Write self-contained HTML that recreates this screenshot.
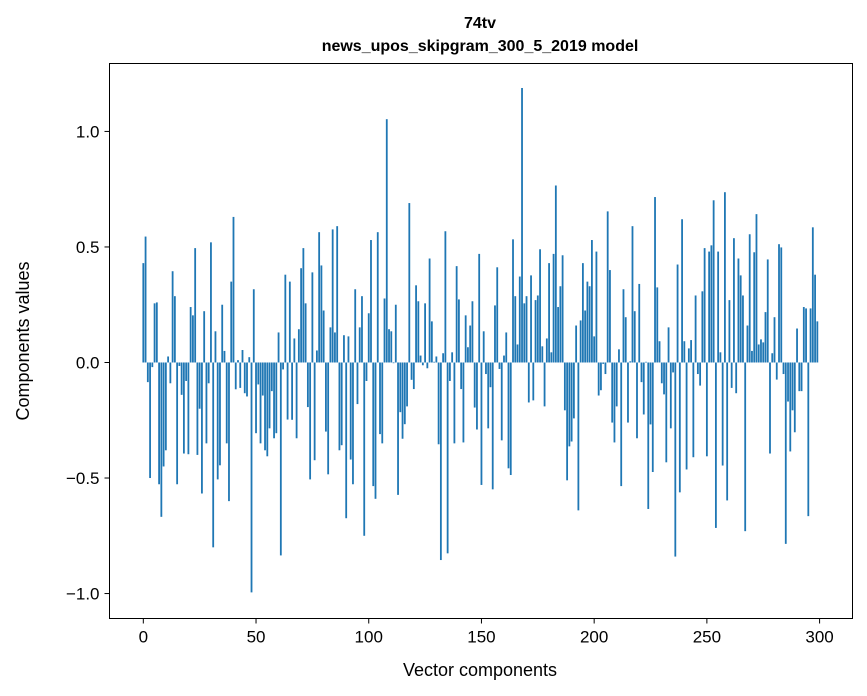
<!DOCTYPE html>
<html><head><meta charset="utf-8">
<style>
html,body{margin:0;padding:0;background:#fff;}
svg{display:block;font-family:"Liberation Sans","DejaVu Sans",sans-serif;}
</style></head>
<body>
<svg id="chart" width="867" height="696" viewBox="0 0 867 696">
<rect x="0" y="0" width="867" height="696" fill="#fff"/>
<text x="480" y="28" text-anchor="middle" font-size="16" font-weight="bold">74tv</text>
<text x="480" y="51" text-anchor="middle" font-size="16" font-weight="bold">news_upos_skipgram_300_5_2019 model</text>
<g id="bars"></g>
<g id="xticks"></g>
<g id="yticks"></g>
<rect x="109.5" y="63.5" width="743" height="555" fill="none" stroke="#000" stroke-width="1"/>
<text x="480" y="676" text-anchor="middle" font-size="18">Vector components</text>
<text transform="translate(29,341) rotate(-90)" text-anchor="middle" font-size="18">Components values</text>
</svg>
<script>
const values = [
0.43,0.545,-0.085,-0.5,-0.02,0.256,0.26,-0.527,-0.668,-0.45,
-0.38,0.026,-0.09,0.395,0.287,-0.527,-0.015,-0.14,-0.394,-0.08,
-0.397,0.24,0.204,0.495,-0.4,-0.2,-0.567,0.222,-0.35,-0.09,
0.52,-0.8,0.135,-0.506,-0.445,0.25,0.05,-0.35,-0.6,0.35,
0.63,-0.116,0.01,-0.11,0.054,-0.133,-0.147,0.023,-0.995,0.317,
-0.306,-0.095,-0.35,-0.143,-0.38,-0.406,-0.285,-0.124,-0.328,-0.306,
0.13,-0.835,-0.03,0.38,-0.247,0.35,-0.248,0.104,-0.328,0.144,
0.408,0.495,0.256,-0.193,-0.506,0.39,-0.423,0.052,0.564,0.42,
0.225,-0.299,-0.484,0.152,0.576,0.13,0.59,-0.38,-0.358,0.118,
-0.674,0.113,-0.42,-0.527,0.317,-0.18,0.152,0.287,-0.75,-0.08,
0.213,0.53,-0.535,-0.59,0.564,-0.31,-0.35,0.277,1.053,0.144,
0.135,-0.003,0.25,-0.573,-0.215,-0.33,-0.267,-0.19,0.69,-0.075,
-0.115,0.334,0.265,0.03,-0.012,0.256,-0.025,0.45,0.178,0.003,
0.026,-0.354,-0.855,0.04,0.568,-0.826,-0.08,0.044,-0.35,0.417,
0.273,-0.115,-0.346,0.204,0.066,0.16,0.265,-0.195,-0.29,0.47,
-0.53,0.135,-0.05,-0.285,-0.107,-0.549,0.247,0.412,-0.028,-0.337,
0.03,0.13,-0.458,-0.487,0.533,0.287,0.078,0.372,1.188,0.256,
0.287,-0.173,0.377,-0.164,0.27,0.29,0.49,0.07,-0.19,0.104,
0.43,0.044,0.47,0.766,0.24,0.33,0.464,-0.207,-0.51,-0.363,
-0.342,-0.242,0.16,-0.64,0.182,0.43,0.225,0.35,0.33,0.53,
0.113,0.48,-0.143,-0.12,-0.006,-0.05,0.654,0.4,-0.26,-0.346,
-0.19,0.057,-0.535,0.317,0.196,-0.26,0.005,0.59,0.222,-0.328,
0.34,-0.085,-0.225,0.003,-0.634,-0.268,-0.474,0.716,0.325,0.092,
-0.09,-0.138,-0.432,0.152,-0.285,-0.043,-0.84,0.424,-0.562,0.62,
0.092,-0.463,0.061,0.097,-0.41,0.29,-0.05,-0.1,0.308,0.495,
-0.406,0.48,0.507,0.702,-0.716,0.48,0.044,-0.446,0.737,-0.597,
0.27,-0.11,0.538,-0.133,0.45,0.377,0.29,-0.73,0.16,0.555,
0.05,0.477,0.642,0.078,0.1,0.087,0.218,0.446,-0.394,0.04,
0.196,-0.074,0.512,0.498,-0.05,-0.785,-0.169,-0.385,-0.207,-0.302,
0.147,-0.124,-0.124,0.24,0.234,-0.665,0.234,0.585,0.38,0.178
];
const xTickValues = [0,50,100,150,200,250,300];
const xTickLabels = ["0","50","100","150","200","250","300"];
const yTickValues = [-1.0,-0.5,0.0,0.5,1.0];
const yTickLabels = ["\u22121.0","\u22120.5","0.0","0.5","1.0"];

const NS = "http://www.w3.org/2000/svg";
const PL = 109.5, PR = 852.5, PT = 63.5, PB = 618.5;
const XMIN = -15, XMAX = 314.6;
const YMIN = -1.108, YMAX = 1.294;
function xs(v){ return PL + (v - XMIN) / (XMAX - XMIN) * (PR - PL); }
function ys(v){ return PB - (v - YMIN) / (YMAX - YMIN) * (PB - PT); }

const barsG = document.getElementById('bars');
const bw = (xs(0.8) - xs(0));
values.forEach(function(v, i){
  const r = document.createElementNS(NS, 'rect');
  const y0 = ys(0), y1 = ys(v);
  r.setAttribute('x', xs(i) - bw/2);
  r.setAttribute('y', Math.min(y0, y1));
  r.setAttribute('width', bw);
  r.setAttribute('height', Math.max(Math.abs(y1 - y0), 0.3));
  r.setAttribute('fill', '#1f77b4');
  
  
  barsG.appendChild(r);
});

const xg = document.getElementById('xticks');
xTickValues.forEach(function(t, i){
  const x = xs(t);
  const l = document.createElementNS(NS, 'line');
  l.setAttribute('x1', x); l.setAttribute('x2', x);
  l.setAttribute('y1', PB); l.setAttribute('y2', PB + 5);
  l.setAttribute('stroke', '#000');
  
  
  xg.appendChild(l);
  const tx = document.createElementNS(NS, 'text');
  tx.setAttribute('x', x); tx.setAttribute('y', PB + 24);
  tx.setAttribute('text-anchor', 'middle');
  tx.setAttribute('font-size', '17');
  tx.textContent = xTickLabels[i];
  
  
  xg.appendChild(tx);
});

const yg = document.getElementById('yticks');
yTickValues.forEach(function(t, i){
  const y = ys(t);
  const l = document.createElementNS(NS, 'line');
  l.setAttribute('x1', PL - 5); l.setAttribute('x2', PL);
  l.setAttribute('y1', y); l.setAttribute('y2', y);
  l.setAttribute('stroke', '#000');
  
  
  yg.appendChild(l);
  const tx = document.createElementNS(NS, 'text');
  tx.setAttribute('x', PL - 10); tx.setAttribute('y', y + 6);
  tx.setAttribute('text-anchor', 'end');
  tx.setAttribute('font-size', '17');
  tx.textContent = yTickLabels[i];
  
  
  yg.appendChild(tx);
});
</script>
</body></html>
